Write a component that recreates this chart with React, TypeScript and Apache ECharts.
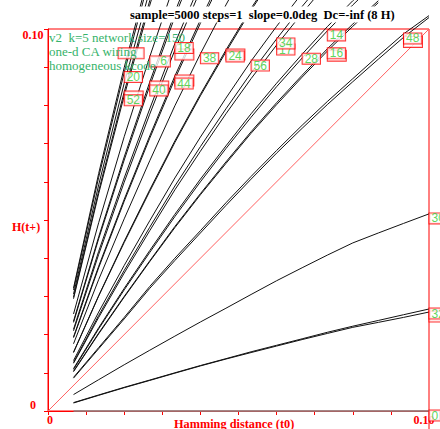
import React, { useEffect, useRef } from 'react';
import * as echarts from 'echarts';

// Hamming distance at t0 (k/150, network size 150)
const t0 = [0.0067, 0.0133, 0.02, 0.0267, 0.0333, 0.04, 0.0467, 0.0533, 0.06, 0.0667, 0.0733, 0.08, 0.0867, 0.0933, 0.1];

// H(t+) per rule
const rA = [0.0322, 0.0622, 0.0899, 0.1154, 0.1386];
const rB = [0.0306, 0.0592, 0.0858, 0.1102, 0.1327];
const r20 = [0.0317, 0.0612, 0.0886, 0.1137, 0.1367];
const r52b = [0.0298, 0.0576, 0.0835, 0.1074, 0.1294];
const r52 = [0.0294, 0.0569, 0.0825, 0.1062, 0.128];
const r6 = [0.0254, 0.0493, 0.0718, 0.0927, 0.1122, 0.1302];
const r40b = [0.0235, 0.0456, 0.0665, 0.0861, 0.1044, 0.1214];
const r40 = [0.0232, 0.0451, 0.0657, 0.0851, 0.1032, 0.1201];
const r18 = [0.0214, 0.0418, 0.061, 0.0791, 0.0962, 0.1121, 0.1269];
const r18b = [0.021, 0.041, 0.0599, 0.0777, 0.0945, 0.1102, 0.1248];
const r44b = [0.0194, 0.0379, 0.0554, 0.072, 0.0877, 0.1024, 0.1162];
const r44 = [0.0192, 0.0375, 0.0549, 0.0714, 0.0869, 0.1015, 0.1152];
const r38 = [0.0176, 0.0344, 0.0503, 0.0655, 0.0799, 0.0935, 0.1063, 0.1183];
const r24 = [0.0153, 0.0301, 0.0441, 0.0575, 0.0703, 0.0825, 0.094, 0.1049, 0.1151];
const r24b = [0.0154, 0.0302, 0.0444, 0.0579, 0.0707, 0.0829, 0.0945, 0.1054, 0.1156];
const r56 = [0.0132, 0.0259, 0.0381, 0.0498, 0.061, 0.0717, 0.0819, 0.0916, 0.1007, 0.1094];
const r34 = [0.0127, 0.025, 0.0368, 0.0481, 0.0589, 0.0692, 0.0791, 0.0885, 0.0974, 0.1059, 0.1138];
const r17 = [0.0125, 0.0245, 0.0361, 0.0472, 0.0579, 0.068, 0.0778, 0.087, 0.0958, 0.1041, 0.112];
const r28 = [0.0111, 0.0218, 0.0321, 0.042, 0.0515, 0.0607, 0.0694, 0.0778, 0.0858, 0.0934, 0.1006, 0.1074, 0.1139];
const r14 = [0.0109, 0.0215, 0.0317, 0.0415, 0.0509, 0.06, 0.0687, 0.0769, 0.0849, 0.0924, 0.0995, 0.1063, 0.1127];
const r16 = [0.0104, 0.0204, 0.03, 0.0393, 0.0483, 0.0569, 0.0652, 0.0731, 0.0807, 0.0879, 0.0948, 0.1013, 0.1074];
const r16b = [0.0103, 0.0202, 0.0298, 0.0391, 0.048, 0.0566, 0.0648, 0.0727, 0.0802, 0.0874, 0.0942, 0.1007, 0.1069];
const r48 = [0.0088, 0.0166, 0.0245, 0.0326, 0.04, 0.0472, 0.0545, 0.0614, 0.0682, 0.0748, 0.081, 0.087, 0.093, 0.0987, 0.1035];
const r48b = [0.0086, 0.0163, 0.0241, 0.0321, 0.0394, 0.0466, 0.0538, 0.0607, 0.0675, 0.074, 0.0802, 0.0862, 0.0921, 0.0978, 0.103];
const r30 = [0.0043, 0.0082, 0.0121, 0.0159, 0.0196, 0.0233, 0.0269, 0.0305, 0.0341, 0.0375, 0.0408, 0.044, 0.0466, 0.0491, 0.0516];
const r32 = [0.0022, 0.0042, 0.0062, 0.0081, 0.01, 0.0119, 0.0137, 0.0155, 0.0172, 0.0189, 0.0206, 0.0222, 0.0237, 0.0252, 0.0267];
const r32b = [0.0021, 0.0041, 0.0061, 0.008, 0.0099, 0.0118, 0.0136, 0.0153, 0.017, 0.0187, 0.0203, 0.0219, 0.0232, 0.0245, 0.0259];
const r0 = [0, 0, 0, 0, 0, 0, 0, 0, 0, 0, 0, 0, 0, 0, 0];

// lines: [label text, values, label kind] ; kind: 'hidden' = covered box, 'none' = no label
const lines: [string, number[], string][] = [
  ['', rA, 'none'],
  ['', rB, 'none'],
  ['', r52b, 'hidden'],
  ['', r40b, 'hidden'],
  ['', r44b, 'hidden'],
  ['', r18b, 'hidden'],
  ['', r24b, 'hidden'],
  ['', r16b, 'hidden'],
  ['', r48b, 'hidden'],
  ['', r32b, 'hidden'],
  ['20', r20, 'shown'],
  ['52', r52, 'shown'],
  ['6', r6, 'shown'],
  ['40', r40, 'shown'],
  ['18', r18, 'shown'],
  ['44', r44, 'shown'],
  ['38', r38, 'shown'],
  ['24', r24, 'shown'],
  ['56', r56, 'shown'],
  ['17', r17, 'shown'],
  ['34', r34, 'shown'],
  ['28', r28, 'shown'],
  ['14', r14, 'shown'],
  ['16', r16, 'shown'],
  ['48', r48, 'shown'],
  ['30', r30, 'shown'],
  ['32', r32, 'shown'],
  ['0', r0, 'shown'],
];

// a label box whose text is hidden under the legend text
const strayBox = [0.0184, 0.0948];

const W = 440;
const H = 429;
const GL = 48, GR = 11, GT = 29, GB = 18;

const RED = '#ff0000';
const GREEN = '#33cc33';
const SERIF = '"Liberation Serif", "Times New Roman", serif';
const SANS = '"Liberation Sans Narrow", "Liberation Sans", Arial, sans-serif';

function labelIndex(y: number[]) {
  let idx = y.length - 1;
  for (let i = 0; i < y.length; i++) if (y[i] <= 0.1) idx = i;
  return idx;
}

export default function App() {
  const ref = useRef<HTMLDivElement>(null);
  useEffect(() => {
    if (!ref.current) return;
    const chart = echarts.init(ref.current, undefined, { renderer: 'svg' });

    const boxStyle = {
      show: true,
      position: [1, 0],
      color: GREEN,
      fontFamily: SANS,
      fontSize: 12,
      lineHeight: 10,
      backgroundColor: '#fff',
      borderColor: RED,
      borderWidth: 1,
      padding: [0, 2, 0, 2],
    };

    const labelData: any[] = [];
    lines.forEach(([txt, y, kind]) => {
      if (kind === 'none') return;
      const i = labelIndex(y);
      const item: any = { value: [t0[i], y[i]], label: { ...boxStyle, formatter: txt || ' ' } };
      if (kind === 'hidden') item.label.width = 14;
      if (txt === '6') item.label.padding = [0, 3, 0, 10];
      labelData.push(item);
    });
    labelData.unshift({ value: strayBox, label: { ...boxStyle, formatter: ' ', width: 21 } });

    const lineSeries = lines.map(([txt, y]) => ({
      type: 'line',
      name: txt,
      data: y.map((v, i) => [t0[i], v]),
      showSymbol: false,
      symbol: 'none',
      clip: false,
      silent: true,
      z: 3,
      lineStyle: txt === '0' ? { color: '#888', width: 1.5 } : { color: '#111', width: 1 },
    }));

    const option: any = {
      animation: false,
      backgroundColor: '#fff',
      title: [
        {
          text: 'sample=5000 steps=1  slope=0.0deg  Dc=-inf (8 H)',
          left: 128,
          top: 7,
          padding: [2, 2, 1, 2],
          backgroundColor: '#fff',
          textStyle: { fontFamily: SERIF, fontWeight: 'bold', fontSize: 12.5, lineHeight: 12, color: '#000' },
        },
        {
          text: 'v2  k=5 network size=150\none-d CA wiring\nhomogeneous kcode',
          left: 49,
          top: 30,
          padding: 0,
          textStyle: { fontFamily: SERIF, fontWeight: 'normal', fontSize: 13, lineHeight: 14, color: '#36b36a' },
        },
        {
          text: 'H(t+)',
          left: 12,
          top: 221,
          padding: 0,
          textStyle: { fontFamily: SERIF, fontWeight: 'bold', fontSize: 12, lineHeight: 12, color: RED },
        },
        {
          text: 'Hamming distance (t0)',
          left: 174,
          top: 417,
          padding: 0,
          textStyle: { fontFamily: SERIF, fontWeight: 'bold', fontSize: 12.3, lineHeight: 13, color: RED },
        },
      ],
      grid: {
        left: GL, right: GR, top: GT, bottom: GB,
        show: true, borderColor: RED, borderWidth: 1,
        containLabel: false, outerBoundsMode: 'none',
      },
      xAxis: {
        type: 'value', min: 0, max: 0.1, interval: 0.01,
        axisLine: { show: true, lineStyle: { color: RED } },
        axisTick: { show: true, length: 4, lineStyle: { color: RED } },
        splitLine: { show: false },
        axisLabel: {
          margin: 3,
          showMinLabel: true, showMaxLabel: true,
          formatter: (v: number) => (v === 0 ? '{a|0}' : Math.abs(v - 0.1) < 1e-6 ? '{b|0.10}' : ''),
          rich: {
            a: { color: RED, fontFamily: SERIF, fontWeight: 'bold', fontSize: 12, padding: [0, 0, 0, 4] },
            b: { color: RED, fontFamily: SERIF, fontWeight: 'bold', fontSize: 12, padding: [0, 10, 0, 0] },
          },
        },
      },
      yAxis: {
        type: 'value', min: 0, max: 0.1, interval: 0.01,
        axisLine: { show: true, lineStyle: { color: RED } },
        axisTick: { show: true, length: 4, lineStyle: { color: RED } },
        splitLine: { show: false },
        axisLabel: {
          showMinLabel: true, showMaxLabel: true,
          align: 'center',
          margin: 15,
          verticalAlignMinLabel: 'bottom',
          verticalAlignMaxLabel: 'top',
          color: RED, fontFamily: SERIF, fontWeight: 'bold', fontSize: 12,
          formatter: (v: number) => (v === 0 ? '0' : Math.abs(v - 0.1) < 1e-6 ? '0.10' : ''),
        },
      },
      graphic: [
        {
          type: 'line',
          silent: true,
          shape: { x1: W - GR, y1: H - GB, x2: W - GR, y2: H },
          style: { stroke: RED, lineWidth: 1 },
        },
      ],
      series: [
        {
          type: 'line',
          name: 'diagonal',
          data: [[0, 0], [0.1, 0.1]],
          showSymbol: false,
          symbol: 'none',
          silent: true,
          z: 2,
          lineStyle: { color: '#ff6060', width: 1 },
        },
        ...lineSeries,
        {
          type: 'scatter',
          name: 'labels',
          data: labelData,
          symbolSize: 1,
          clip: false,
          silent: true,
          z: 5,
          itemStyle: { color: 'rgba(0,0,0,0)' },
        },
      ],
    };

    chart.setOption(option);
    return () => chart.dispose();
  }, []);

  return (
    <div
      ref={ref}
      style={{ position: 'fixed', left: 0, top: 0, width: W, height: H, background: '#fff' }}
    />
  );
}
